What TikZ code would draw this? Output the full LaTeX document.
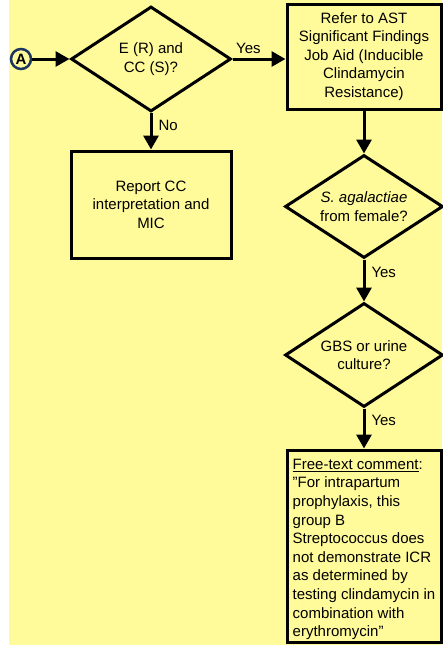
\documentclass[tikz,border=0pt]{standalone}
\usepackage{fontspec}
\setmainfont{Liberation Sans}
\usetikzlibrary{shapes.geometric,arrows.meta}
\definecolor{bg}{RGB}{255,251,154}
\definecolor{navy}{RGB}{28,52,96}
\begin{document}
\begin{tikzpicture}[x=1pt,y=-1pt,
  every node/.style={font=\fontsize{15}{18.6}\selectfont},
  conn/.style={line width=3pt,-{Triangle[length=14pt,width=15pt]}},
  decision/.style={shape=diamond,draw,line width=3pt,fill=bg,inner sep=0pt,aspect=1.5,align=center},
  procbox/.style={rectangle,draw,line width=3pt,fill=bg,align=center,inner sep=0pt},
  lbl/.style={inner sep=0pt}
]
\useasboundingbox (0,0) rectangle (442,645);
\fill[bg] (9,0) rectangle (442,645);

\node[circle,draw=navy,line width=2.5pt,fill=bg,minimum size=20pt,inner sep=0pt,font=\fontsize{15}{15}\selectfont\bfseries] (A) at (21,59) {A};

\node[decision,minimum width=160pt,minimum height=105pt] (d1) at (151,59) {E (R) and\\CC (S)?};
\node[procbox,minimum width=154pt,minimum height=105pt] (b1) at (364,56.5) {Refer to AST\\Significant Findings\\Job Aid (Inducible\\Clindamycin\\Resistance)};
\node[procbox,minimum width=160pt,minimum height=107pt] (b2) at (151,204.5) {Report CC\\interpretation and\\MIC};
\node[decision,minimum width=158pt,minimum height=103pt] (d2) at (364,206.5) {\textit{S. agalactiae}\\from female?};
\node[decision,minimum width=158pt,minimum height=104pt] (d3) at (364,355) {GBS or urine\\culture?};
\node[procbox,minimum width=154pt,minimum height=192pt,align=left] (b3) at (364,546) {\rule{0pt}{17pt}\underline{Free-text comment}:\\"For intrapartum\\prophylaxis, this\\group B\\Streptococcus does\\not demonstrate ICR\\as determined by\\testing clindamycin in\\combination with\\erythromycin"};

\draw[conn] (A) -- (d1.west);
\draw[conn] (d1.east) -- (b1.west |- d1.east) node[lbl,pos=0.3,above=4pt] {Yes};
\draw[conn] (d1.south) -- (b2.north) node[lbl,pos=0.35,right=6pt] {No};
\draw[conn] (b1.south) -- (d2.north);
\draw[conn] (d2.south) -- (d3.north) node[lbl,pos=0.3,right=6pt] {Yes};
\draw[conn] (d3.south) -- (b3.north) node[lbl,pos=0.3,right=6pt] {Yes};
\end{tikzpicture}
\end{document}
